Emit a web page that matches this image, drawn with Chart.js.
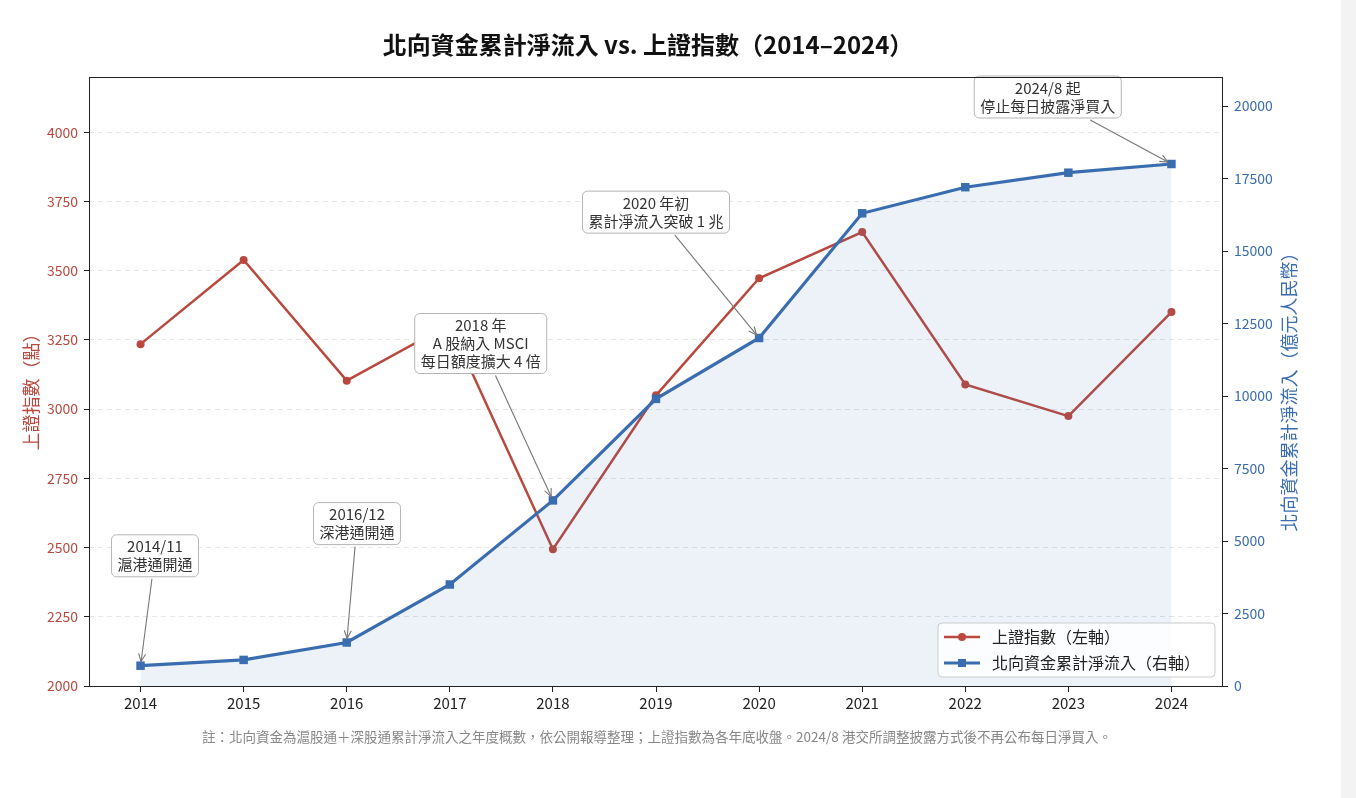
<!DOCTYPE html>
<html>
<head>
<meta charset="utf-8">
<script src="https://cdn.jsdelivr.net/npm/chart.js@4.4.1/dist/chart.umd.min.js"></script>
<style>
  html, body { margin: 0; padding: 0; background: #fff; overflow: hidden; }
  #wrap { position: absolute; left: 0; top: 0; width: 1340px; height: 798px; }
  #scroll { position: absolute; left: 1341px; top: 0; width: 15px; height: 798px; background: #f3f3f3; }
</style>
</head>
<body>
<div id="wrap"><canvas id="chart"></canvas></div>
<div id="scroll"></div>
<script>
// data
const years = ['2014', '2015', '2016', '2017', '2018', '2019', '2020', '2021', '2022', '2023', '2024'];
const shIndex = [3235, 3539, 3103, 3307, 2494, 3050, 3473, 3640, 3089, 2975, 3351];
const northbound = [700, 900, 1500, 3500, 6400, 9900, 12000, 16300, 17200, 17700, 18000];
const leftTicks = [2000, 2250, 2500, 2750, 3000, 3250, 3500, 3750, 4000];
const rightTicks = [0, 2500, 5000, 7500, 10000, 12500, 15000, 17500, 20000];

const RED = '#b9493e';
const BLUE = '#3a6db0';
const FONT = "'Noto Sans CJK TC', 'Noto Sans', sans-serif";

// callouts: text lines, index of the point they point at, box centre (x index, right-axis value)
const notes = [
  { lines: ['2014/11', '滬港通開通'], at: 0, bx: 0.14, by: 4490 },
  { lines: ['2016/12', '深港通開通'], at: 2, bx: 2.10, by: 5600 },
  { lines: ['2018 年', 'A 股納入 MSCI', '每日額度擴大 4 倍'], at: 4, bx: 3.30, by: 11810 },
  { lines: ['2020 年初', '累計淨流入突破 1 兆'], at: 6, bx: 5.00, by: 16340 },
  { lines: ['2024/8 起', '停止每日披露淨買入'], at: 10, bx: 8.80, by: 20310 }
];

Chart.defaults.font.family = FONT;

function roundRect(ctx, x, y, w, h, r) {
  ctx.beginPath();
  ctx.moveTo(x + r, y);
  ctx.arcTo(x + w, y, x + w, y + h, r);
  ctx.arcTo(x + w, y + h, x, y + h, r);
  ctx.arcTo(x, y + h, x, y, r);
  ctx.arcTo(x, y, x + w, y, r);
  ctx.closePath();
}

const decorations = {
  id: 'decorations',
  afterDatasetsDraw(chart) {
    const ctx = chart.ctx;
    const xs = chart.scales.x, ys = chart.scales.y1;
    const a = chart.chartArea;

    // callouts
    ctx.save();
    ctx.font = '15px ' + FONT;
    notes.forEach(n => {
      const lh = 18;
      const w = Math.max(...n.lines.map(l => ctx.measureText(l).width)) + 12;
      const h = n.lines.length * lh + 6;
      const cx = xs.getPixelForValue(n.bx);
      const cy = ys.getPixelForValue(n.by);
      const tx = xs.getPixelForValue(n.at);
      const ty = ys.getPixelForValue(northbound[n.at]);

      // arrow
      const dx = tx - cx, dy = ty - cy;
      const s = Math.min((w / 2 + 2) / Math.abs(dx || 1e-6), (h / 2 + 2) / Math.abs(dy || 1e-6));
      const sx = cx + dx * s, sy = cy + dy * s;
      const len = Math.hypot(tx - sx, ty - sy);
      const ux = (tx - sx) / len, uy = (ty - sy) / len;
      const ex = tx - ux * 4, ey = ty - uy * 4;
      ctx.strokeStyle = '#777';
      ctx.lineWidth = 1.1;
      ctx.beginPath();
      ctx.moveTo(sx, sy);
      ctx.lineTo(ex, ey);
      ctx.stroke();
      ctx.beginPath();
      ctx.moveTo(ex - ux * 8 - uy * 3.5, ey - uy * 8 + ux * 3.5);
      ctx.lineTo(ex, ey);
      ctx.lineTo(ex - ux * 8 + uy * 3.5, ey - uy * 8 - ux * 3.5);
      ctx.stroke();

      // box
      roundRect(ctx, cx - w / 2, cy - h / 2, w, h, 5);
      ctx.fillStyle = '#fff';
      ctx.fill();
      ctx.strokeStyle = '#b5b5b5';
      ctx.lineWidth = 1;
      ctx.stroke();
      ctx.fillStyle = '#333';
      ctx.textAlign = 'center';
      ctx.textBaseline = 'middle';
      n.lines.forEach((l, i) => {
        ctx.fillText(l, cx, cy - (n.lines.length - 1) * lh / 2 + i * lh);
      });
    });
    ctx.restore();

    // legend (lower right, inside the frame)
    ctx.save();
    const lw = 277, lhgt = 54;
    const lx = a.right - 8 - lw, ly = a.bottom - 9 - lhgt;
    roundRect(ctx, lx, ly, lw, lhgt, 4);
    ctx.fillStyle = 'rgba(255,255,255,0.8)';
    ctx.fill();
    ctx.strokeStyle = '#cccccc';
    ctx.lineWidth = 1;
    ctx.stroke();
    const items = [
      { label: '上證指數（左軸）', color: RED, shape: 'circle', width: 2.5 },
      { label: '北向資金累計淨流入（右軸）', color: BLUE, shape: 'rect', width: 3.2 }
    ];
    ctx.font = '16px ' + FONT;
    ctx.textBaseline = 'middle';
    ctx.textAlign = 'left';
    items.forEach((it, i) => {
      const y = ly + 14 + i * 26;
      ctx.strokeStyle = it.color;
      ctx.lineWidth = it.width;
      ctx.beginPath();
      ctx.moveTo(lx + 6, y);
      ctx.lineTo(lx + 42, y);
      ctx.stroke();
      ctx.fillStyle = it.color;
      if (it.shape === 'circle') {
        ctx.beginPath();
        ctx.arc(lx + 24, y, 4, 0, Math.PI * 2);
        ctx.fill();
      } else {
        ctx.fillRect(lx + 20, y - 4, 8, 8);
      }
      ctx.fillStyle = '#222';
      ctx.fillText(it.label, lx + 54, y);
    });
    ctx.restore();
  },
  afterDraw(chart) {
    const ctx = chart.ctx;
    const a = chart.chartArea;
    ctx.save();
    // frame
    ctx.strokeStyle = '#222';
    ctx.lineWidth = 1;
    ctx.strokeRect(a.left + 0.5, a.top + 0.5, a.right - a.left - 1, a.bottom - a.top);

    // title
    const mid = (a.left + a.right) / 2;
    ctx.fillStyle = '#111';
    ctx.textAlign = 'center';
    ctx.textBaseline = 'middle';
    ctx.font = 'bold 24px ' + FONT;
    ctx.fillText('北向資金累計淨流入 vs. 上證指數（2014–2024）', 648, 45);

    // axis titles, both reading bottom to top
    const cy = (a.top + a.bottom) / 2 + 6;
    ctx.font = '18px ' + FONT;
    ctx.fillStyle = RED;
    ctx.save();
    ctx.translate(31, cy);
    ctx.rotate(-Math.PI / 2);
    ctx.fillText('上證指數（點）', 0, 0);
    ctx.restore();
    ctx.fillStyle = BLUE;
    ctx.save();
    ctx.translate(1289, cy);
    ctx.rotate(-Math.PI / 2);
    ctx.fillText('北向資金累計淨流入（億元人民幣）', 0, 0);
    ctx.restore();

    // footnote
    ctx.font = '13.5px ' + FONT;
    ctx.fillStyle = '#888';
    ctx.fillText('註：北向資金為滬股通＋深股通累計淨流入之年度概數，依公開報導整理；上證指數為各年底收盤。2024/8 港交所調整披露方式後不再公布每日淨買入。', mid + 1, 737);
    ctx.restore();
  }
};

const ctx = document.getElementById('chart').getContext('2d');
new Chart(ctx, {
  type: 'line',
  data: {
    labels: years,
    datasets: [
      {
        label: '北向資金累計淨流入（右軸）',
        data: northbound,
        yAxisID: 'y1',
        borderColor: BLUE,
        backgroundColor: 'rgba(58,109,176,0.09)',
        borderWidth: 3.2,
        pointStyle: 'rect',
        pointRadius: 6,
        pointBackgroundColor: BLUE,
        pointBorderWidth: 0,
        fill: 'origin',
        tension: 0,
        order: 1
      },
      {
        label: '上證指數（左軸）',
        data: shIndex,
        yAxisID: 'y',
        borderColor: RED,
        backgroundColor: RED,
        borderWidth: 2.5,
        pointStyle: 'circle',
        pointRadius: 4,
        pointBackgroundColor: RED,
        pointBorderWidth: 0,
        fill: false,
        tension: 0,
        order: 2
      }
    ]
  },
  options: {
    responsive: true,
    maintainAspectRatio: false,
    animation: false,
    layout: { padding: { left: 0, right: 0, top: 77, bottom: 0 } },
    plugins: {
      legend: { display: false },
      title: { display: false },
      tooltip: { enabled: false }
    },
    scales: {
      x: {
        offset: true,
        grid: { display: true, drawOnChartArea: false, offset: false, tickLength: 6, tickColor: '#222' },
        border: { display: false },
        ticks: { color: '#222', font: { size: 15 }, padding: 2 },
        afterFit(s) { s.height = 112; }
      },
      y: {
        position: 'left',
        min: 2000,
        max: 4200,
        afterBuildTicks(s) { s.ticks = leftTicks.map(v => ({ value: v })); },
        ticks: { color: RED, font: { size: 14 }, padding: 6, callback: v => String(v) },
        grid: { color: '#e6e6e6', lineWidth: 1, tickColor: '#222', tickLength: 5 },
        border: { display: false, dash: [5, 4] },
        afterFit(s) { s.width = 89; }
      },
      y1: {
        position: 'right',
        min: 0,
        max: 21000,
        afterBuildTicks(s) { s.ticks = rightTicks.map(v => ({ value: v })); },
        ticks: { color: BLUE, font: { size: 14 }, padding: 6, callback: v => String(v) },
        grid: { drawOnChartArea: false, tickColor: '#222', tickLength: 5 },
        border: { display: false },
        afterFit(s) { s.width = 117; }
      }
    }
  },
  plugins: [decorations]
});
</script>
</body>
</html>
